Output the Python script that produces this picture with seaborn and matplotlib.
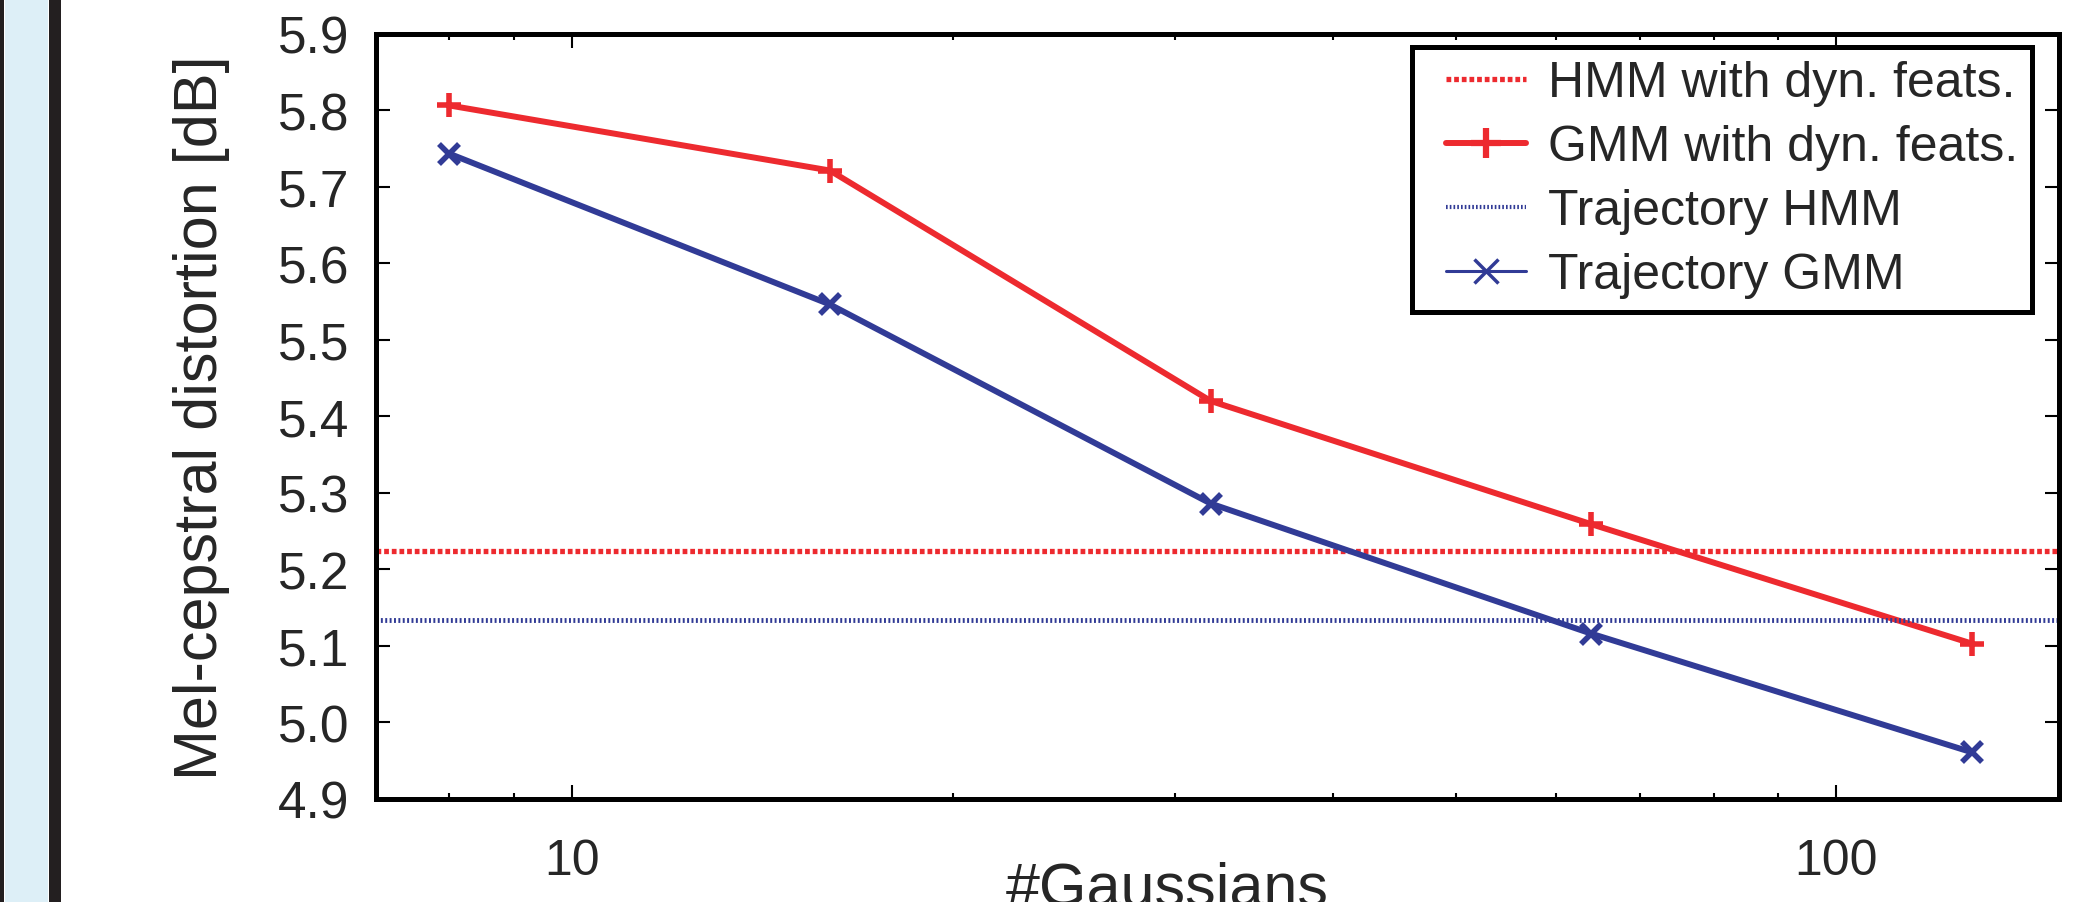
import matplotlib
matplotlib.use("Agg")
import matplotlib.pyplot as plt
import seaborn as sns
from matplotlib.patches import Rectangle
from matplotlib.lines import Line2D
from matplotlib.legend_handler import HandlerLine2D
from matplotlib.ticker import FixedLocator, FixedFormatter, LogLocator, NullFormatter

# ---------------- data ----------------
n_gaussians = [8, 16, 32, 64, 128]
gmm_dyn = [5.806, 5.721, 5.420, 5.259, 5.103]      # GMM with dyn. feats.
traj_gmm = [5.743, 5.546, 5.286, 5.116, 4.961]     # Trajectory GMM
hmm_dyn = 5.224                                     # HMM with dyn. feats.
traj_hmm = 5.134                                    # Trajectory HMM
series_labels = ["HMM with dyn. feats.", "GMM with dyn. feats.",
                 "Trajectory HMM", "Trajectory GMM"]
y_ticks = [4.9, 5.0, 5.1, 5.2, 5.3, 5.4, 5.5, 5.6, 5.7, 5.8, 5.9]
y_tick_labels = ["4.9", "5.0", "5.1", "5.2", "5.3", "5.4", "5.5", "5.6", "5.7", "5.8", "5.9"]
x_ticks = [10, 100]
x_tick_labels = ["10", "100"]
x_label = "#Gaussians"
y_label = "Mel-cepstral distortion [dB]"

# ---------------- style ----------------
sns.set_theme(style="ticks")
plt.rcParams["font.family"] = ["Liberation Sans", "DejaVu Sans"]

RED = "#ED2A2F"
BLUE = "#313B96"
W, H = 2087, 903

fig = plt.figure(figsize=(W / 100, H / 100), dpi=100)
fig.patch.set_facecolor("white")

# left decorative strip of the screenshot
fig.add_artist(Rectangle((0, 0), 4 / W, 1, transform=fig.transFigure, color="#231F20", lw=0))
fig.add_artist(Rectangle((5 / W, 0), 43 / W, 1, transform=fig.transFigure, color="#DDEFF7", lw=0))
fig.add_artist(Rectangle((49 / W, 0), 12 / W, 1, transform=fig.transFigure, color="#231F20", lw=0))

ax = fig.add_axes([376 / W, 1 - 800 / H, (2059 - 376) / W, (800 - 34.5) / H])
ax.set_facecolor("white")

ax.axhline(hmm_dyn, color=RED, lw=3.8, ls=(0, (0.9, 0.55)), label=series_labels[0])
sns.lineplot(x=n_gaussians, y=gmm_dyn, ax=ax, color=RED, lw=4.3, marker="+",
             ms=17, mew=4, mec=RED, label=series_labels[1])
ax.axhline(traj_hmm, color=BLUE, lw=3.5, ls=(0, (0.4, 0.5)), label=series_labels[2])
sns.lineplot(x=n_gaussians, y=traj_gmm, ax=ax, color=BLUE, lw=4.3, marker="x",
             ms=15, mew=4, mec=BLUE, label=series_labels[3])

ax.set_xscale("log")
ax.set_xlim(7, 150)
ax.set_ylim(4.9, 5.9)
ax.xaxis.set_major_locator(FixedLocator(x_ticks))
ax.xaxis.set_major_formatter(FixedFormatter(x_tick_labels))
ax.xaxis.set_minor_locator(LogLocator(base=10, subs=[2, 3, 4, 5, 6, 7, 8, 9]))
ax.xaxis.set_minor_formatter(NullFormatter())
ax.set_yticks(y_ticks)
ax.set_yticklabels(y_tick_labels)

ax.tick_params(which="both", direction="in", top=True, right=True, width=1.5, color="black")
ax.tick_params(which="major", length=10)
ax.tick_params(which="minor", length=4)
ax.tick_params(axis="x", which="major", labelsize=36, pad=28)
ax.tick_params(axis="y", which="major", labelsize=37, pad=19)

for s in ax.spines.values():
    s.set_visible(True)
    s.set_linewidth(3.6)
    s.set_color("black")

ax.set_xlabel(x_label, fontsize=44)
ax.set_ylabel(y_label, fontsize=44)
ax.xaxis.set_label_coords(0.470, -0.0797)
ax.yaxis.set_label_coords(-0.0868, 0.5)

handles, labels = ax.get_legend_handles_labels()
order = [labels.index(l) for l in series_labels]
leg = ax.legend([handles[i] for i in order], [labels[i] for i in order],
                loc="upper right", bbox_to_anchor=(0.9840, 0.9824), borderaxespad=0,
                fontsize=36, frameon=True, fancybox=False, edgecolor="black",
                framealpha=1, borderpad=0.27, labelspacing=0.36,
                handlelength=2.0, handletextpad=0.45,
                handler_map={Line2D: HandlerLine2D(xpad=0.4)})
leg.get_frame().set_linewidth(3.6)
leg_lines = leg.get_lines()
leg_lines[3].set_linewidth(2.2)
leg_lines[3].set_markersize(17)
leg_lines[3].set_markeredgewidth(2.5)
leg_lines[1].set_markersize(22)
leg_lines[1].set_markeredgewidth(4.5)
leg_lines[2].set_linewidth(3.0)

fig.savefig("out.png", dpi=100)
